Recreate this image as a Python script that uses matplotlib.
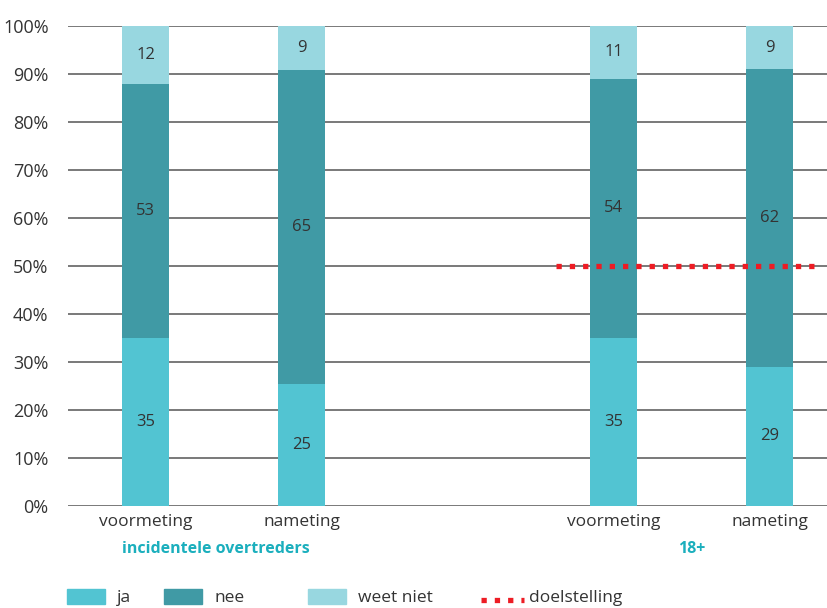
import matplotlib.pyplot as plt
from matplotlib.patches import Rectangle
from matplotlib.lines import Line2D

plt.rcParams['font.family'] = ['Open Sans', 'DejaVu Sans']

metingen = ['voormeting', 'nameting', 'voormeting', 'nameting']
posities = [0, 1, 3, 4]
groepen = ['incidentele overtreders', '18+']
groep_pos = [0.45, 3.5]

ja = [35, 25.4, 35, 29]
nee = [53, 65.4, 54, 62]
weet_niet = [12, 9.2, 11, 9]
doel = 50

c_ja = '#52C4D2'
c_nee = '#409AA5'
c_weet = '#98D7E0'
c_doel = '#ED1C24'
c_tekst = '#333333'

fig = plt.figure(figsize=(8.27, 6.08), dpi=100)
ax = fig.add_axes([68 / 827, 102 / 608, 1 - 68 / 827, 480 / 608])

breedte = 0.30
onder2 = [a + b for a, b in zip(ja, nee)]
ax.bar(posities, ja, breedte, color=c_ja, zorder=2)
ax.bar(posities, nee, breedte, bottom=ja, color=c_nee, zorder=2)
ax.bar(posities, weet_niet, breedte, bottom=onder2, color=c_weet, zorder=2)

for x, a, b, c in zip(posities, ja, nee, weet_niet):
    for bodem, h in [(0, a), (a, b), (a + b, c)]:
        ax.text(x, bodem + h / 2, f'{round(h)}', ha='center', va='center',
                fontsize=12, color=c_tekst, zorder=4)

# doelstelling voor de 18+ groep
stippel = (0, (1, 1.52))
ax.hlines(doel, 2.63, 4.29, colors=c_doel, linewidth=3.8,
          linestyles=stippel, zorder=3)

ax.set_xlim(-0.497, 4.369)
ax.set_ylim(0, 100)
ax.set_yticks(range(0, 101, 10))
ax.set_yticklabels([f'{v}%' for v in range(0, 101, 10)])
ax.yaxis.grid(True, color='#555555', linewidth=1.1, zorder=0)
ax.set_axisbelow(True)
for s in ax.spines.values():
    s.set_visible(False)
ax.tick_params(axis='both', length=0, colors=c_tekst)
ax.tick_params(axis='y', pad=14, labelsize=13)
ax.tick_params(axis='x', pad=6, labelsize=12.5)
ax.set_xticks(posities)
ax.set_xticklabels(metingen)

for naam, gx in zip(groepen, groep_pos):
    ax.annotate(naam, xy=(gx, 0), xycoords=('data', 'axes fraction'),
                xytext=(0, -31), textcoords='offset points', ha='center',
                va='center', fontsize=11.5, fontweight='bold', color='#1BAFBD')

# legenda onderaan
W, H = 827, 608
items = [(67, c_ja, 'ja', 117), (164, c_nee, 'nee', 214),
         (308, c_weet, 'weet niet', 358)]
for x0, kleur, label, tx in items:
    fig.add_artist(Rectangle((x0 / W, 4 / H), 38 / W, 15 / H,
                             transform=fig.transFigure, color=kleur))
    fig.text(tx / W, 10 / H, label, ha='left', va='center',
             fontsize=12.5, color=c_tekst)
fig.add_artist(Line2D([481 / W, 524 / W], [8 / H, 8 / H],
                      transform=fig.transFigure, color=c_doel, linewidth=3.8,
                      linestyle=stippel))
fig.text(529 / W, 10 / H, 'doelstelling', ha='left', va='center',
         fontsize=12.5, color=c_tekst)

fig.savefig('out.png', dpi=100)
